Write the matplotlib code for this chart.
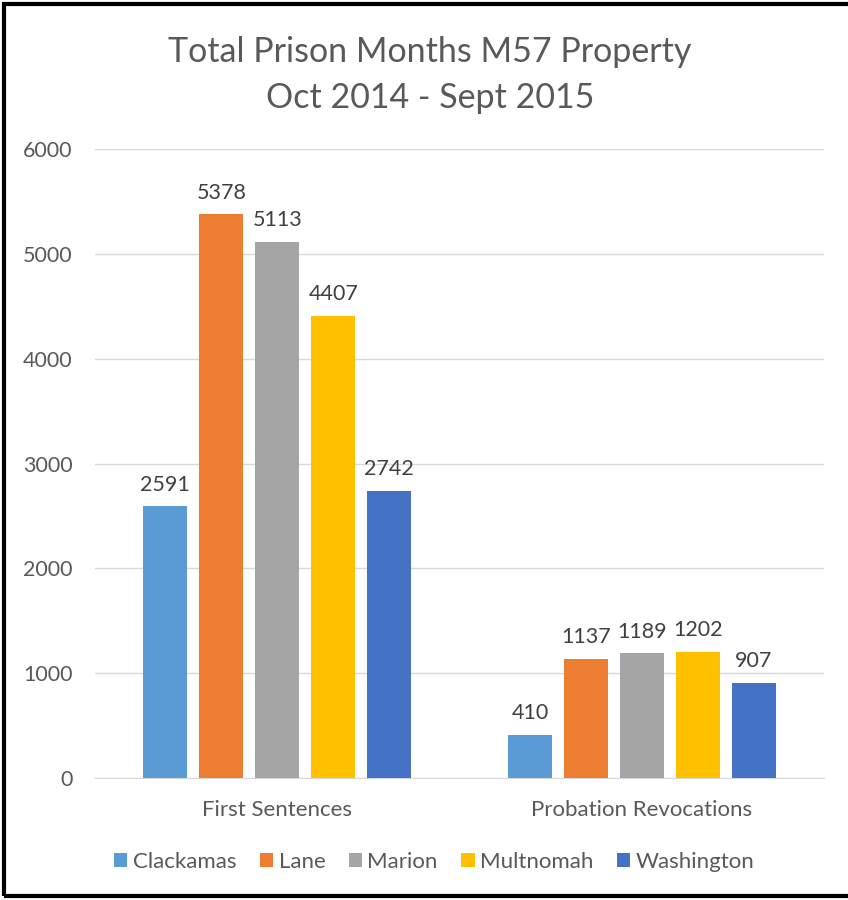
import matplotlib
matplotlib.use("Agg")
import matplotlib.pyplot as plt
from matplotlib.patches import Rectangle
import numpy as np

categories = ["First Sentences", "Probation Revocations"]
series_names = ["Clackamas", "Lane", "Marion", "Multnomah", "Washington"]
values = {
    "Clackamas": [2591, 410],
    "Lane": [5378, 1137],
    "Marion": [5113, 1189],
    "Multnomah": [4407, 1202],
    "Washington": [2742, 907],
}
colors = ["#5B9BD5", "#ED7D31", "#A5A5A5", "#FFC000", "#4472C4"]
yticks = [0, 1000, 2000, 3000, 4000, 5000, 6000]

plt.rcParams['font.family'] = ['Lato', 'DejaVu Sans']
txt = "#595959"

fig = plt.figure(figsize=(8.48, 9), dpi=100)
ax = fig.add_axes([0.112, 0.1356, 0.860, 0.6988])

x = np.arange(len(categories))
width = 0.1207
step = 0.1536
for i, name in enumerate(series_names):
    off = (i - 2) * step
    bars = ax.bar(x + off, values[name], width, color=colors[i], label=name, zorder=3)
    for b, v in zip(bars, values[name]):
        ax.text(b.get_x() + b.get_width() / 2, v + 110, str(v), ha="center", va="bottom",
                fontsize=15.5, color="#404040")

ax.set_xlim(-0.5, 1.5)
ax.set_ylim(0, 6000)
ax.set_yticks(yticks)
ax.set_yticklabels([str(t) for t in yticks], fontsize=15.5, color=txt)
ax.set_xticks(x)
ax.set_xticklabels(categories, fontsize=16, color=txt)
ax.tick_params(axis="x", length=0, pad=16)
ax.tick_params(axis="y", length=0, pad=16)
ax.grid(axis="y", color="#D9D9D9", linewidth=1, zorder=0)
for s in ["top", "right", "left"]:
    ax.spines[s].set_visible(False)
ax.spines["bottom"].set_color("#D9D9D9")

fig.text(0.507, 0.942, "Total Prison Months M57 Property", ha="center", va="center",
         fontsize=24.5, color=txt)
fig.text(0.507, 0.891, "Oct 2014 - Sept 2015", ha="center", va="center",
         fontsize=24.5, color=txt)

leg = fig.legend(loc="center", bbox_to_anchor=(0.512, 0.042), ncol=5, frameon=False,
                 fontsize=16, handlelength=0.6, handleheight=0.6, handletextpad=0.25,
                 columnspacing=1.05)
for t in leg.get_texts():
    t.set_color(txt)

fig.patches.append(Rectangle((0.005, 0.004), 1.2, 0.992, transform=fig.transFigure,
                             fill=False, edgecolor="black", linewidth=3))

fig.savefig("out.png", dpi=100)
